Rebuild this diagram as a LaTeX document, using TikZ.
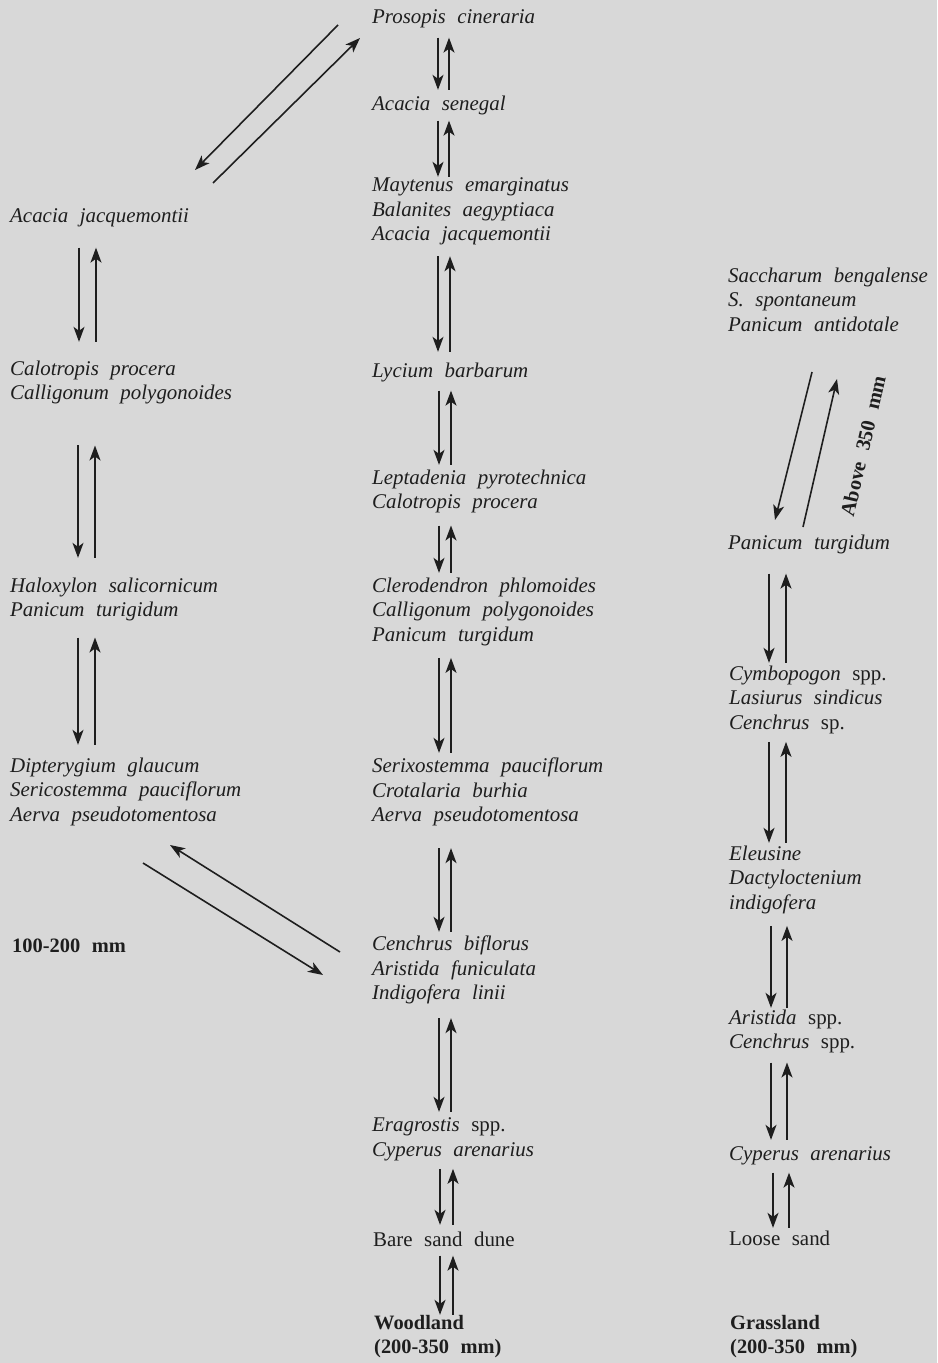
\documentclass[tikz,border=0pt]{standalone}
\usepackage{fontspec}
\setmainfont{Liberation Serif}
\usetikzlibrary{arrows.meta}

\definecolor{paper}{RGB}{216,216,216}
\definecolor{ink}{RGB}{30,30,30}

\newcommand\widesp{\spaceskip=11.5bp plus 2bp\relax}

\tikzset{
  sp/.style={anchor=north west, yshift=17.15bp, inner sep=0pt, align=left, text=ink,
    font=\fontsize{21}{24.5}\selectfont\itshape,
    execute at begin node={\widesp\strut}, execute at end node=\strut},
  zone/.style={sp, font=\fontsize{20.5}{24.5}\selectfont\bfseries},
  tag/.style={inner sep=0pt, text=ink, font=\fontsize{20.5}{24.5}\selectfont\bfseries,
    execute at begin node=\widesp},
  flow/.style={draw=ink, line width=1.6pt, -{Stealth[length=15bp,width=11bp,inset=4bp]}},
}

\begin{document}
\begin{tikzpicture}[x=1bp, y=-1bp]
\fill[paper] (0,0) rectangle (937,1363);
\useasboundingbox (0,0) rectangle (937,1363);

% woodland sere (middle)
\node[sp] (pc) at (372,23) {Prosopis cineraria};
\node[sp] (as) at (372,110) {Acacia senegal};
\node[sp] (me) at (372,195) {Maytenus emarginatus\\Balanites aegyptiaca\\Acacia jacquemontii};
\node[sp] (lb) at (372,377) {Lycium barbarum};
\node[sp] (lp) at (372,487) {Leptadenia pyrotechnica\\Calotropis procera};
\node[sp] (cp) at (372,595) {Clerodendron phlomoides\\Calligonum polygonoides\\Panicum turgidum};
\node[sp] (sx) at (372,775) {Serixostemma pauciflorum\\Crotalaria burhia\\Aerva pseudotomentosa};
\node[sp] (cb) at (372,953) {Cenchrus biflorus\\Aristida funiculata\\Indigofera linii};
\node[sp] (es) at (372,1135) {Eragrostis \textup{spp.}\\Cyperus arenarius};
\node[sp] (bsd) at (373,1246) {\textup{Bare sand dune}};
\node[zone] (wl) at (374,1332) {Woodland\\(200-350 mm)};

% dry sere (left)
\node[sp] (aj) at (10,222) {Acacia jacquemontii};
\node[sp] (cal) at (10,378) {Calotropis procera\\Calligonum polygonoides};
\node[sp] (hs) at (10,595) {Haloxylon salicornicum\\Panicum turigidum};
\node[sp] (dg) at (10,775) {Dipterygium glaucum\\Sericostemma pauciflorum\\Aerva pseudotomentosa};
\node[zone] (low) at (12,952) {100-200 mm};

% grassland sere (right)
\node[sp] (sb) at (728,285) {Saccharum bengalense\\S. spontaneum\\Panicum antidotale};
\node[sp] (ptr) at (728,549) {Panicum turgidum};
\node[sp] (cy) at (729,683) {Cymbopogon \textup{spp.}\\Lasiurus sindicus\\Cenchrus \textup{sp.}};
\node[sp] (el) at (729,863) {Eleusine\\Dactyloctenium\\indigofera};
\node[sp] (ar) at (729,1027) {Aristida \textup{spp.}\\Cenchrus \textup{spp.}};
\node[sp] (ca) at (729,1160) {Cyperus arenarius};
\node[sp] (ls) at (729,1245) {\textup{Loose sand}};
\node[zone] (gl) at (730,1332) {Grassland\\(200-350 mm)};
\node[tag, rotate=77] (hi) at (863,446) {Above 350 mm};

% two-way steps: from/to/x down/x up/gap from/gap to
\foreach \a/\b/\xd/\xu/\ga/\gb in {pc/as/438/449/7/3, as/me/438/449/3/1, me/lb/438/450/8/8,
    lb/lp/439/451/6/5, lp/cp/439/451/9/5, cp/sx/439/451/9/5, sx/cb/439/451/19/4,
    cb/es/439/451/11/6, es/bsd/440/453/5/4, bsd/wl/440/453/2/0,
    aj/cal/79/96/18/19, cal/hs/78/95/38/20, hs/dg/78/95/13/13,
    ptr/cy/769/786/17/3, cy/el/769/786/5/3, el/ar/771/787/9/2, ar/ca/771/787/6/3, ca/ls/773/789/5/0}{
  \draw[flow, shorten <=\ga bp, shorten >=\gb bp] (\xd,0 |- \a.south) -- (\xd,0 |- \b.north);
  \draw[flow, shorten <=\gb bp, shorten >=\ga bp] (\xu,0 |- \b.north) -- (\xu,0 |- \a.south);
}

% slanted steps
\coordinate (t1) at (338,25);  \coordinate (t2) at (195,170);
\coordinate (t3) at (213,183); \coordinate (t4) at (360,38);
\draw[flow] (t1) -- (t2);
\draw[flow] (t3) -- (t4);
\coordinate (b1) at (340,952); \coordinate (b2) at (170,845);
\coordinate (b3) at (143,863); \coordinate (b4) at (323,975);
\draw[flow] (b1) -- (b2);
\draw[flow] (b3) -- (b4);
\coordinate (r1) at (812,372); \coordinate (r2) at (775,520);
\coordinate (r3) at (803,527); \coordinate (r4) at (837,379);
\draw[flow] (r1) -- (r2);
\draw[flow] (r3) -- (r4);
\end{tikzpicture}
\end{document}
